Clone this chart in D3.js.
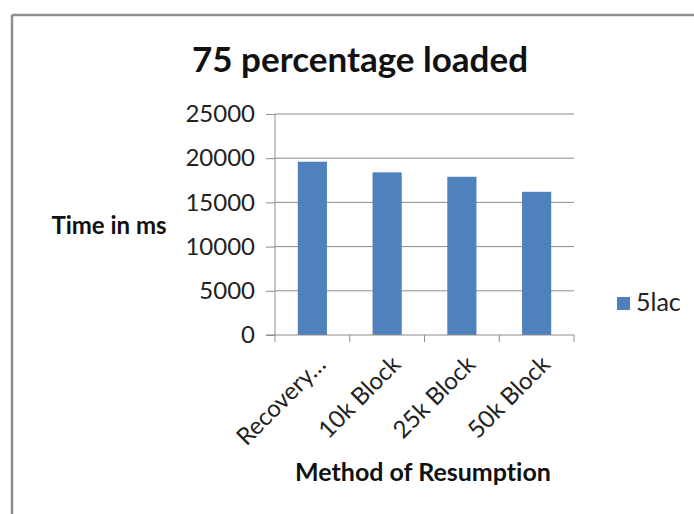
<!DOCTYPE html>
<html>
<head>
<meta charset="utf-8">
<script src="https://cdn.jsdelivr.net/npm/d3@7"></script>
<style>
  html, body { margin: 0; padding: 0; background: #fff; }
  svg { display: block; font-family: Lato, "Open Sans", sans-serif; font-variant-ligatures: none; }
</style>
</head>
<body>
<svg id="chart" width="694" height="514"></svg>
<script>
// Resumption methods and their load times (ms) at 75% loaded
const categories = ["Recovery…", "10k Block", "25k Block", "50k Block"];
const values5lac = [19600, 18400, 17900, 16200];
const yTicks = [0, 5000, 10000, 15000, 20000, 25000];
const seriesName = "5lac";

const svg = d3.select("#chart");
const W = 694, H = 514;
const margin = { left: 275, top: 114 };
const plotW = 574 - margin.left;
const plotH = 335 - margin.top;

// Outer chart frame (only top and left edges visible)
svg.append("line").attr("x1", 12).attr("x2", W).attr("y1", 15).attr("y2", 15)
  .attr("stroke", "#8e8e8e").attr("stroke-width", 2.5);
svg.append("line").attr("x1", 12).attr("x2", 12).attr("y1", 15).attr("y2", H)
  .attr("stroke", "#8e8e8e").attr("stroke-width", 2.5);

const g = svg.append("g").attr("transform", `translate(${margin.left},${margin.top})`);

const x = d3.scaleBand().domain(categories).range([0, plotW]).paddingInner(0.61).paddingOuter(0.305);
const y = d3.scaleLinear().domain([0, 25000]).range([plotH, 0]);

// Horizontal gridlines
g.append("g").selectAll("line").data(yTicks.filter(d => d > 0)).join("line")
  .attr("x1", 0).attr("x2", plotW)
  .attr("y1", d => y(d)).attr("y2", d => y(d))
  .attr("stroke", "#8c8c8c").attr("stroke-width", 1);

// Bars
g.append("g").selectAll("rect").data(values5lac).join("rect")
  .attr("x", (d, i) => x(categories[i]))
  .attr("y", d => y(d))
  .attr("width", x.bandwidth())
  .attr("height", d => plotH - y(d))
  .attr("fill", "#4f81bd");

// Y axis
const yAxis = g.append("g").call(d3.axisLeft(y).tickValues(yTicks).tickSize(9).tickPadding(11).tickFormat(d3.format("d")));
yAxis.select(".domain").attr("stroke", "#8c8c8c").attr("d", `M0,${plotH}V0`);
yAxis.selectAll(".tick line").attr("stroke", "#8c8c8c");
yAxis.selectAll(".tick text").attr("font-size", 24).attr("fill", "#222").attr("font-family", "Lato");

// X axis with category boundary ticks
const xAxisG = g.append("g").attr("transform", `translate(0,${plotH})`);
xAxisG.append("line").attr("x1", -9).attr("x2", plotW).attr("y1", 0).attr("y2", 0).attr("stroke", "#8c8c8c");
xAxisG.selectAll("line.bt").data(d3.range(categories.length + 1)).join("line").attr("class", "bt")
  .attr("x1", i => i * plotW / categories.length).attr("x2", i => i * plotW / categories.length)
  .attr("y1", 0).attr("y2", 7).attr("stroke", "#8c8c8c");
xAxisG.selectAll("text").data(categories).join("text")
  .attr("transform", d => `translate(${x(d) + x.bandwidth() / 2 + 9},${25}) rotate(-45)`)
  .attr("text-anchor", "end")
  .attr("dy", "0.35em")
  .attr("font-size", 24).attr("fill", "#222")
  .text(d => d);

// Titles
svg.append("text").attr("x", 360).attr("y", 72).attr("text-anchor", "middle")
  .attr("font-size", 35).attr("font-weight", "bold").attr("fill", "#111")
  .text("75 percentage loaded");
svg.append("text").attr("x", 109).attr("y", 234).attr("text-anchor", "middle")
  .attr("font-size", 24).attr("font-weight", "bold").attr("fill", "#111")
  .text("Time in ms");
svg.append("text").attr("x", 423).attr("y", 481).attr("text-anchor", "middle")
  .attr("font-size", 25).attr("font-weight", "bold").attr("fill", "#111")
  .text("Method of Resumption");

// Legend
const lg = svg.append("g").attr("transform", "translate(617,297)");
lg.append("rect").attr("width", 13).attr("height", 13).attr("fill", "#4f81bd");
lg.append("text").attr("x", 19).attr("y", 14).attr("font-size", 25).attr("fill", "#222").text(seriesName);
</script>
</body>
</html>
